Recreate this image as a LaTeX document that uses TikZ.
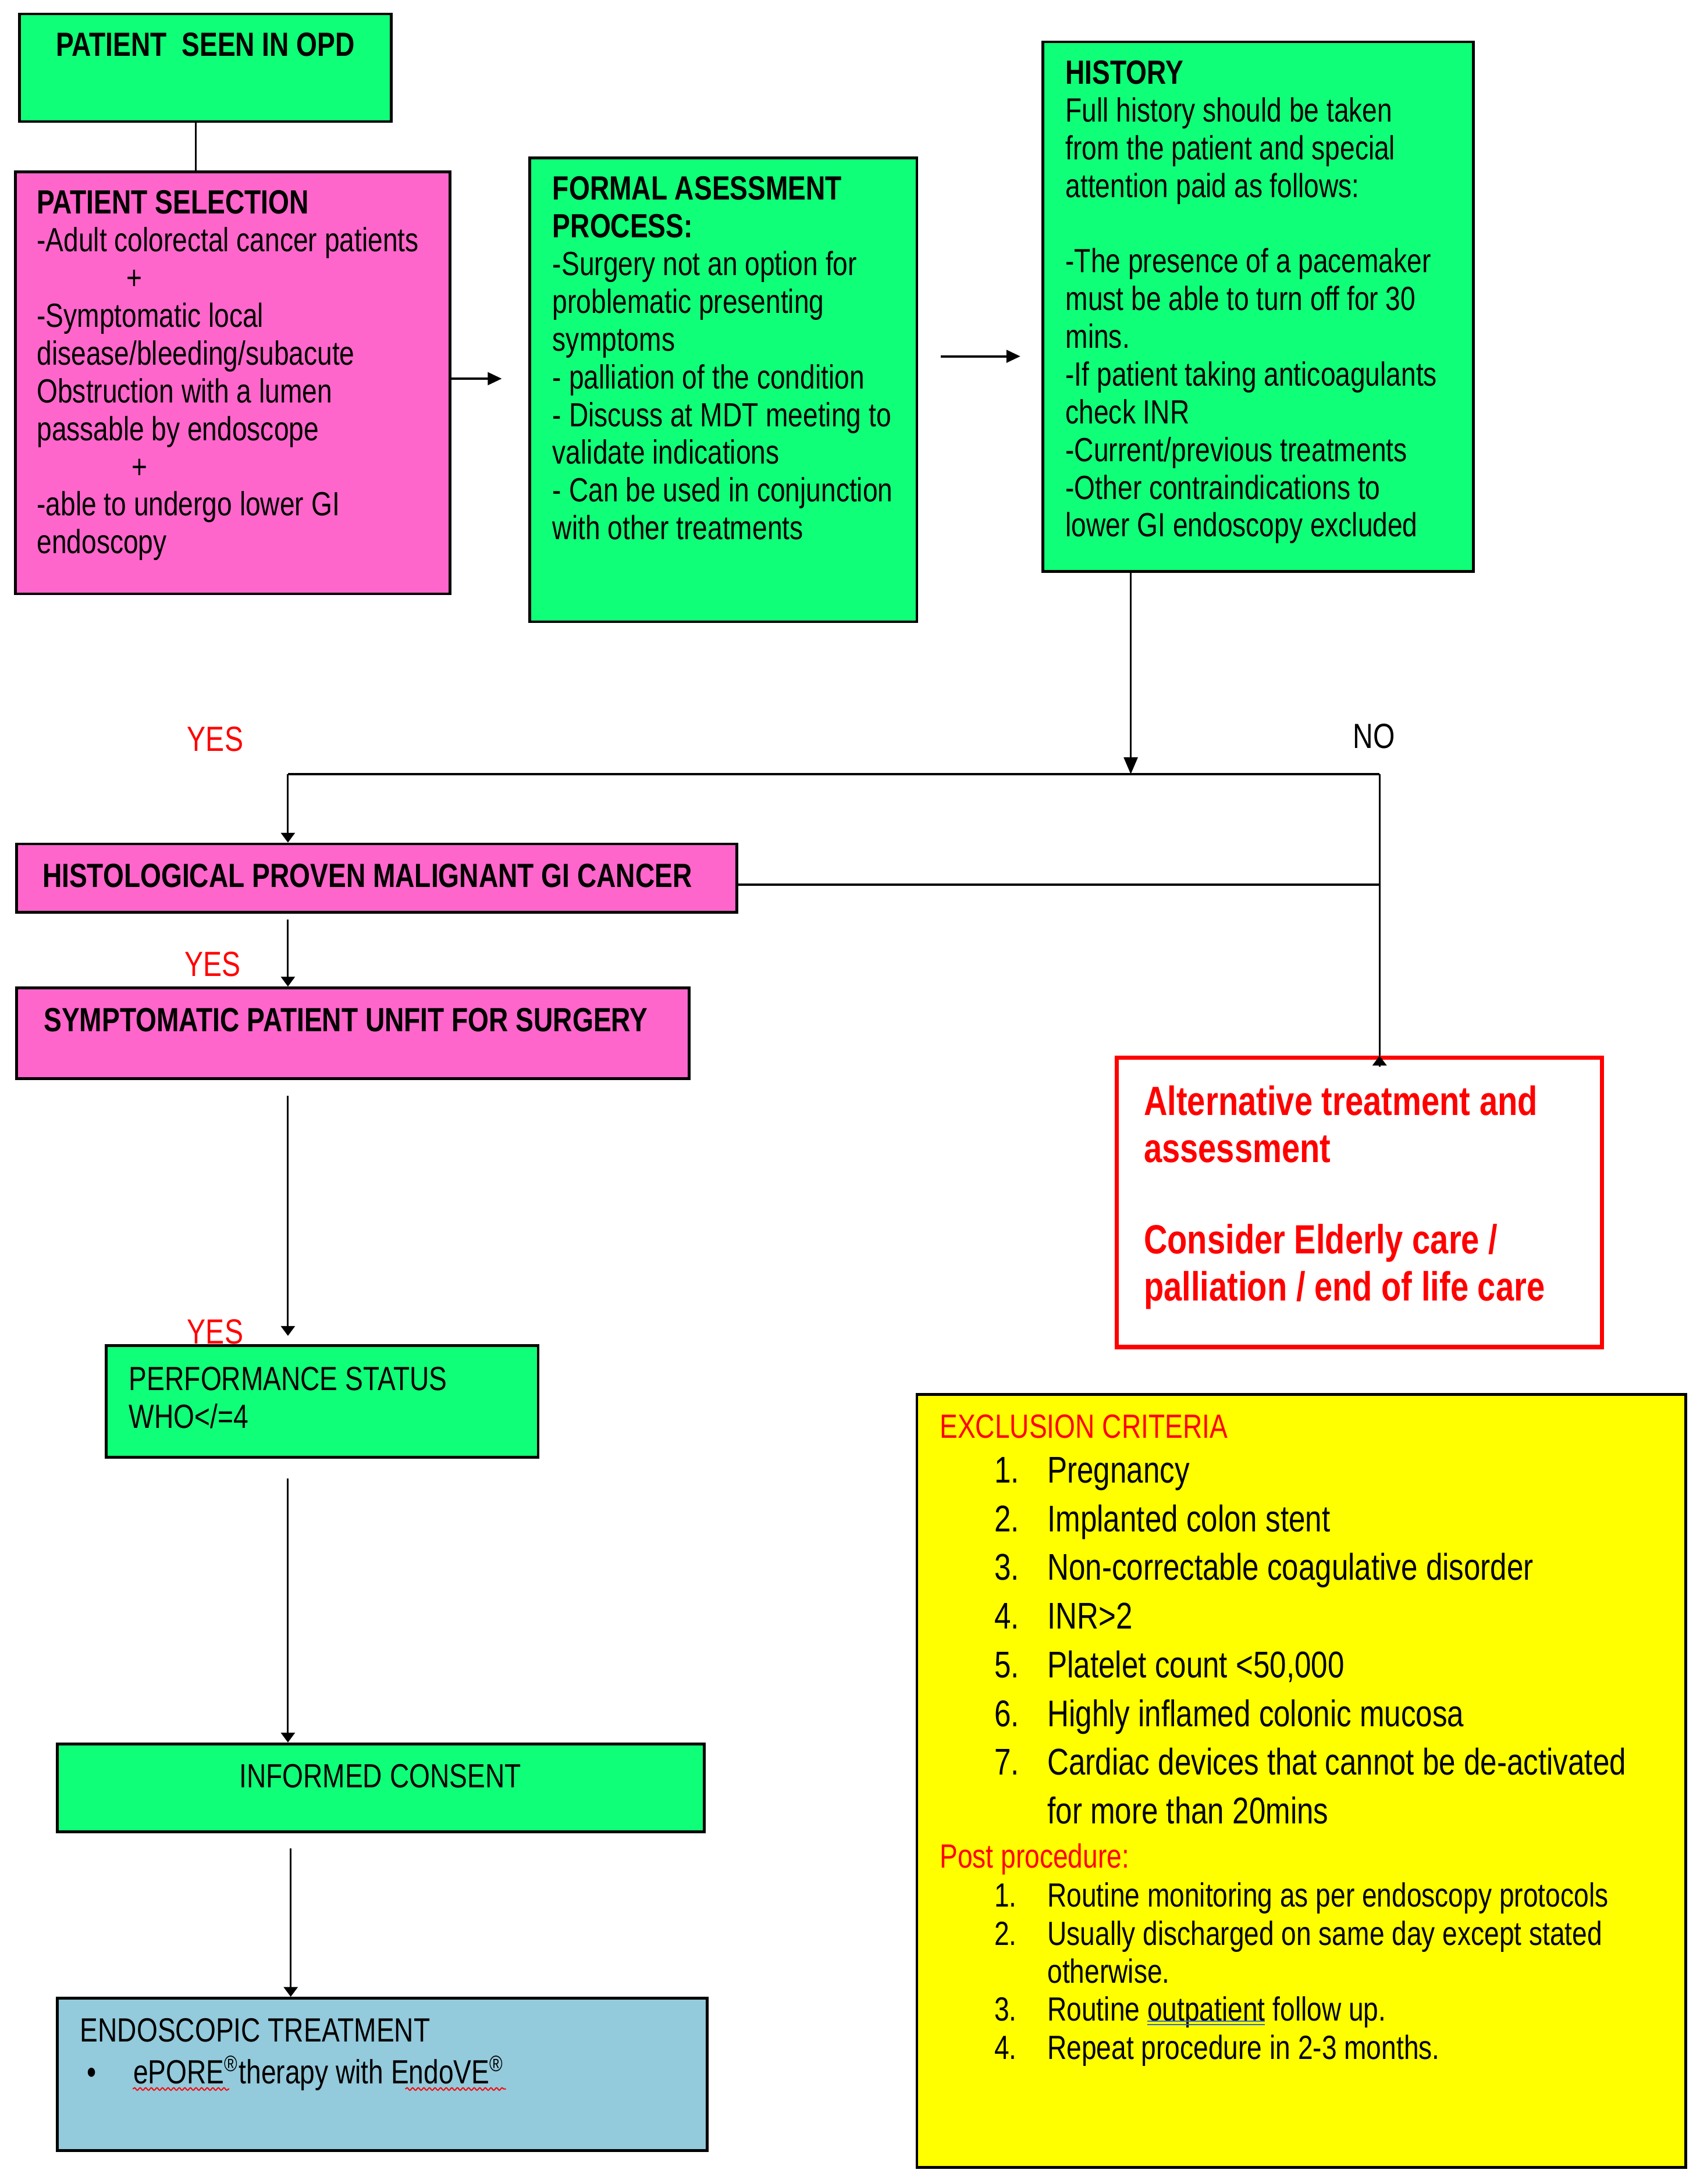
\documentclass[tikz,border=0pt]{standalone}
\usepackage{fontspec}
\setmainfont{Liberation Sans}[FakeStretch=0.8]
\usetikzlibrary{arrows.meta,fit,decorations.pathmorphing}
\definecolor{gr}{HTML}{10FF78}
\definecolor{mg}{HTML}{FF66CC}
\definecolor{bl}{HTML}{93CADC}
\definecolor{yl}{HTML}{FFFF00}
\definecolor{rd}{HTML}{FF0000}
\definecolor{ul}{HTML}{3366CC}
\tikzset{
  box/.style={draw, line width=1pt, inner sep=0pt},
  txt/.style={inner sep=0pt, align=left, anchor=north west, font=\fontsize{12}{13.5}\selectfont},
  lab/.style={inner sep=0pt, font=\fontsize{12.5}{14}\selectfont},
  conn/.style={line width=0.6pt},
  thickconn/.style={line width=0.9pt},
  arr/.style={line width=0.6pt, -{Triangle[length=3.5pt,width=5pt]}},
  longarr/.style={line width=0.5pt, -{Triangle[length=6pt,width=5pt]}},
  harr/.style={line width=0.8pt, -{Triangle[length=5pt,width=4.5pt]}},
  wavy/.style={rd, line width=0.4pt, decorate, decoration={snake, amplitude=0.45pt, segment length=2pt}}
}
\begin{document}
\begin{tikzpicture}[x=0.5pt,y=-0.5pt]
\useasboundingbox (0,0) rectangle (1216,1563);
% boxes
\node[box, fill=gr, fit={(14,10) (280,87)}] (opd) {};
\node[box, fill=mg, fit={(11,123) (322,425)}] (ps) {};
\node[box, fill=gr, fit={(379,113) (656,445)}] (formal) {};
\node[box, fill=gr, fit={(746,30) (1054,409)}] (hist) {};
\node[box, fill=mg, fit={(12,604) (527,653)}] (histo) {};
\node[box, fill=mg, fit={(12,707) (493,772)}] (symp) {};
\node[box, draw=rd, line width=1.5pt, fill=white, fit={(799,757) (1146,964)}] (alt) {};
\node[box, fill=gr, fit={(76,963) (385,1043)}] (perf) {};
\node[box, fill=gr, fit={(41,1248) (504,1311)}] (cons) {};
\node[box, fill=bl, fit={(41,1430) (506,1539)}] (endo) {};
\node[box, fill=yl, fit={(656,998) (1206,1551)}] (excl) {};
% texts
\node[txt, anchor=north, font=\fontsize{12}{13.5}\selectfont\bfseries] (opdT) at (147,23) {PATIENT\ \ SEEN IN OPD};
\node[txt] (psT) at (26,136) {\textbf{PATIENT SELECTION}\\
-Adult colorectal cancer patients\\
\hspace*{32pt}+\\
-Symptomatic local\\
disease/bleeding/subacute\\
Obstruction with a lumen\\
passable by endoscope\\
\hspace*{34pt}+\\
-able to undergo lower GI\\
endoscopy};
\node[txt] (formalT) at (395,126) {\textbf{FORMAL ASESSMENT}\\
\textbf{PROCESS:}\\
-Surgery not an option for\\
problematic presenting\\
symptoms\\
- palliation of the condition\\
- Discuss at MDT meeting to\\
validate indications\\
- Can be used in conjunction\\
with other treatments};
\node[txt] (histT) at (762,43) {\textbf{HISTORY}\\
Full history should be taken\\
from the patient and special\\
attention paid as follows:\\[13.5pt]
-The presence of a pacemaker\\
must be able to turn off for 30\\
mins.\\
-If patient taking anticoagulants\\
check INR\\
-Current/previous treatments\\
-Other contraindications to\\
lower GI endoscopy excluded};
\node[txt, font=\fontsize{12}{13.5}\selectfont\bfseries] (histoT) at (30,618) {HISTOLOGICAL PROVEN MALIGNANT GI CANCER};
\node[txt, font=\fontsize{12}{13.5}\selectfont\bfseries] (sympT) at (31,721) {SYMPTOMATIC PATIENT UNFIT FOR SURGERY};
\node[txt] (perfT) at (92,978) {PERFORMANCE STATUS\\ WHO</=4};
\node[txt, anchor=north] (consT) at (272,1262) {INFORMED CONSENT};
\node[txt, font=\fontsize{12}{15}\selectfont] (endoT) at (57,1444) {ENDOSCOPIC TREATMENT\\
\hspace*{2.5pt}\makebox[16.5pt][l]{\textbullet}ePORE\textsuperscript{\textregistered}therapy with EndoVE\textsuperscript{\textregistered}};
\node[txt, text=rd, font=\fontsize{14.6}{17}\selectfont\bfseries] (altT) at (818,776.5) {Alternative treatment and\\
assessment\\[15.5pt]
Consider Elderly care /\\
palliation / end of life care};
\node[txt, text=rd] (exT) at (672,1012) {EXCLUSION CRITERIA};
\node[txt, font=\fontsize{13.3}{17.43}\selectfont] (exL) at (711,1042.5) {\makebox[19pt][l]{1.}Pregnancy\\
\makebox[19pt][l]{2.}Implanted colon stent\\
\makebox[19pt][l]{3.}Non-correctable coagulative disorder\\
\makebox[19pt][l]{4.}INR>2\\
\makebox[19pt][l]{5.}Platelet count <50,000\\
\makebox[19pt][l]{6.}Highly inflamed colonic mucosa\\
\makebox[19pt][l]{7.}Cardiac devices that cannot be de-activated\\
\hspace*{19pt}for more than 20mins};
\node[txt, text=rd] (postT) at (672,1319) {Post procedure:};
\node[txt, font=\fontsize{12}{13.6}\selectfont] (postL) at (711,1347) {\makebox[19pt][l]{1.}Routine monitoring as per endoscopy protocols\\
\makebox[19pt][l]{2.}Usually discharged on same day except stated\\
\hspace*{19pt}otherwise.\\
\makebox[19pt][l]{3.}Routine outpatient follow up.\\
\makebox[19pt][l]{4.}Repeat procedure in 2-3 months.};
% labels
\node[lab, text=rd] (yes1) at (154,529) {YES};
\node[lab] (no1) at (983,527) {NO};
\node[lab, text=rd] (yes2) at (152,690) {YES};
\node[lab, text=rd] (yes3) at (154,953) {YES};
% connectors
\coordinate (c140) at (140,0);
\coordinate (jA) at (809,554);
\coordinate (jL) at (206,554);
\coordinate (jR) at (987,554);
\coordinate (c208) at (208,0);
\draw[conn] (opd.south -| c140) -- (ps.north -| c140);
\draw[harr, shorten >=9.5pt] (ps.east |- 0,271) -- (formal.west |- 0,271);
\draw[harr, shorten <=8pt, shorten >=7.5pt] (formal.east |- 0,255) -- (hist.west |- 0,255);
\draw[longarr] (hist.south -| jA) -- (jA);
\draw[thickconn] (jL) -- (jR);
\draw[arr] (jL) -- (histo.north -| jL);
\draw[conn] (jR) -- (alt.north -| jR);
\draw[arr] ([yshift=-4pt]jR |- alt.north) -- (alt.north -| jR);
\draw[thickconn] (histo.east |- 0,633) -- (jR |- 0,633);
\draw[arr, shorten <=2pt] (histo.south -| jL) -- (symp.north -| jL);
\draw[arr, shorten <=5.5pt, shorten >=3pt] (symp.south -| jL) -- (perf.north -| jL);
\draw[arr, shorten <=7pt] (perf.south -| jL) -- (cons.north -| jL);
\draw[arr, line width=0.7pt, shorten <=5.5pt] (cons.south -| c208) -- (endo.north -| c208);
% spell-check marks
\draw[wavy] (95,1495) -- (164,1495);
\draw[wavy] (290,1495) -- (362,1495);
\draw[ul, line width=0.4pt] (821,1446.5) -- (905,1446.5);
\draw[ul, line width=0.4pt] (821,1449) -- (905,1449);
\end{tikzpicture}
\end{document}
